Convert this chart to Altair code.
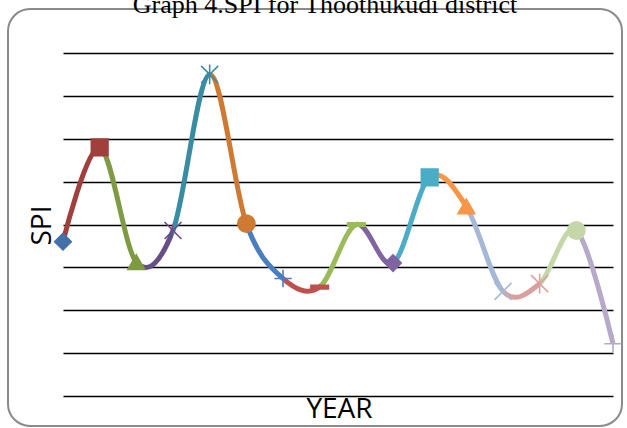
import altair as alt
import pandas as pd

# SPI series, one value per year (16 years, x axis unlabelled)
period = list(range(1, 17))
spi = [-0.20, 0.90, -0.44, -0.07, 1.75, 0.01, -0.63, -0.73,
       0.00, -0.45, 0.55, 0.21, -0.78, -0.69, -0.07, -1.39]
marker = ["diamond", "square", "triangle", "x", "star", "circle", "plus", "dash",
          "dash", "diamond", "square", "triangle", "x", "star", "circle", "plus"]
grid_values = [-2, -1.5, -1, -0.5, 0, 0.5, 1, 1.5, 2]

title_text = "Graph 4.SPI for Thoothukudi district"

# one colour per point (office "vary colours by point" cycle)
palette = ["#4470A8", "#A0403D", "#7E9A43", "#664E86", "#3A8CA3", "#CF7A33",
           "#4A7EC0", "#C0504D", "#9BBB59", "#8064A2", "#4BACC6", "#F79646",
           "#A5B9D7", "#D9A09E", "#C5D7A8", "#B6A9CA"]

marker_names = ["diamond", "square", "triangle", "x", "star", "circle", "plus", "dash"]
marker_shapes = ["diamond", "square", "triangle-up",
                 "M-1,-1L1,1M-1,1L1,-1",
                 "M-1,-1L1,1M-1,1L1,-1M0,-1.15L0,1.15",
                 "circle",
                 "M-1,0L1,0M0,-1L0,1",
                 "M-1,-0.2L1,-0.2L1,0.2L-1,0.2Z"]
marker_sizes = [272, 306, 342, 400, 400, 269, 324, 324]

df = pd.DataFrame({"period": period, "spi": spi, "marker": marker})

# hard-stop gradient: the segment leading into each point takes that point's colour
n = len(spi)
stops = []
for k in range(n - 1):
    c = palette[k + 1]
    stops.append(alt.GradientStop(color=c, offset=k / (n - 1)))
    stops.append(alt.GradientStop(color=c, offset=(k + 1) / (n - 1)))

x_enc = alt.X(
    "period:Q",
    scale=alt.Scale(domain=[1, 16], nice=False, zero=False),
    axis=alt.Axis(title="YEAR", labels=False, ticks=False, domain=False, grid=False,
                  titleFont="Open Sans", titleFontSize=28, titleFontWeight="normal",
                  titleColor="black", titleX=276, titleY=21,
                  titleBaseline="alphabetic", titleAlign="center"),
)
y_enc = alt.Y(
    "spi:Q",
    scale=alt.Scale(domain=[-2, 2], nice=False, zero=False),
    axis=alt.Axis(title="SPI", values=grid_values, labels=False, ticks=False,
                  domain=False, grid=True, gridColor="black", gridWidth=1.5,
                  gridOpacity=1,
                  titleFont="Open Sans", titleFontSize=28, titleFontWeight="normal",
                  titleColor="black", titleX=-13, titleY=172, titleAngle=270,
                  titleBaseline="alphabetic", titleAlign="center"),
)

frame = alt.Chart(pd.DataFrame({"a": [0]})).mark_rect(
    fillOpacity=0, stroke="#8a8a8a", strokeWidth=2, cornerRadius=22
).encode(x=alt.value(-55), x2=alt.value(559), y=alt.value(-44), y2=alt.value(373))

line = alt.Chart(df).mark_line(
    interpolate="cardinal", strokeWidth=5,
    color=alt.LinearGradient(gradient="linear", stops=stops, x1=0, x2=1, y1=0, y2=0),
).encode(x=x_enc, y=y_enc)

points = alt.Chart(df).mark_point(filled=True, opacity=1, strokeWidth=1.6).encode(
    x=x_enc,
    y=y_enc,
    shape=alt.Shape("marker:N", scale=alt.Scale(domain=marker_names, range=marker_shapes), legend=None),
    size=alt.Size("marker:N", scale=alt.Scale(domain=marker_names, range=marker_sizes), legend=None),
    fill=alt.Fill("period:O", scale=alt.Scale(domain=period, range=palette), legend=None),
    stroke=alt.Stroke("period:O", scale=alt.Scale(domain=period, range=palette), legend=None),
)

title = alt.Chart(pd.DataFrame({"t": [title_text]})).mark_text(
    font="Liberation Serif", fontSize=26, color="black", align="center", baseline="alphabetic"
).encode(text="t:N", x=alt.value(262), y=alt.value(-40))

chart = alt.layer(frame, line, points, title).properties(
    width=550, height=343,
    autosize=alt.AutoSizeParams(type="none"),
    padding={"left": 63, "top": 53, "right": 14, "bottom": 32},
    background="white",
).configure_view(stroke=None)

chart.save("out.html", embed_options={"renderer": "svg", "actions": False})
